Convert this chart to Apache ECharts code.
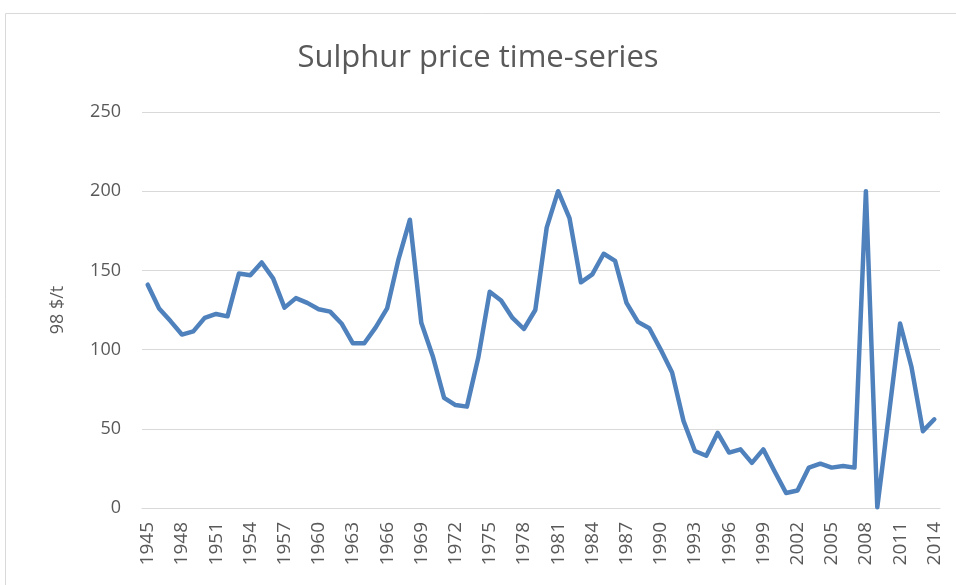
<!DOCTYPE html>
<html>
<head>
<meta charset="utf-8">
<script src="https://cdn.jsdelivr.net/npm/echarts@6/dist/echarts.min.js"></script>
<style>
  html, body { margin: 0; padding: 0; background: #fff; }
  #chart { width: 956px; height: 585px; }
</style>
</head>
<body>
<div id="chart"></div>
<script>
const years = [];
for (let y = 1945; y <= 2014; y++) years.push(String(y));

// 98 $/t
const price = [
  141, 126, 118, 109.5, 111.5, 120, 122.5, 121, 148, 147,
  155, 145, 126.5, 132.5, 129.5, 125.5, 124, 116.5, 104, 104,
  114, 126, 157, 182, 117, 96, 69.5, 65, 64, 95,
  136.5, 131, 120, 113, 125, 177, 200, 183, 142.5, 147.5,
  160.5, 156, 129.5, 117.5, 113.5, 100, 85.5, 55, 36, 33,
  47.5, 35, 37, 28.5, 37, 23, 9.5, 11, 25.5, 28,
  25.5, 26.5, 25.5, 200, 0.5, 58, 116.5, 89, 48.5, 56
];

const yTicks = [0, 50, 100, 150, 200, 250];

const chart = echarts.init(document.getElementById('chart'));

chart.setOption({
  animation: false,
  textStyle: { fontFamily: 'Open Sans', color: '#595959' },
  title: {
    text: 'Sulphur price time-series',
    left: 'center',
    top: 38,
    textStyle: {
      fontFamily: 'Open Sans',
      fontSize: 31,
      fontWeight: 'normal',
      color: '#595959'
    }
  },
  graphic: [{
    type: 'rect',
    shape: { x: 5.5, y: 13.5, width: 1000, height: 1000 },
    style: { fill: 'none', stroke: '#d9d9d9', lineWidth: 1 },
    silent: true
  }],
  grid: { left: 142, right: 16, top: 112, bottom: 77 },
  xAxis: {
    type: 'category',
    data: years,
    boundaryGap: true,
    axisLine: { lineStyle: { color: '#d9d9d9', width: 1 } },
    axisTick: { show: false },
    axisLabel: {
      interval: 2,
      rotate: 90,
      margin: 14,
      fontSize: 19,
      color: '#595959'
    }
  },
  yAxis: {
    type: 'value',
    min: yTicks[0],
    max: yTicks[yTicks.length - 1],
    interval: 50,
    name: '98 $/t',
    nameLocation: 'middle',
    nameGap: 75,
    nameTextStyle: { fontSize: 18, color: '#595959' },
    axisLine: { show: false },
    axisTick: { show: false },
    axisLabel: { fontSize: 18, margin: 21, color: '#595959' },
    splitLine: { lineStyle: { color: '#d9d9d9', width: 1 } }
  },
  series: [{
    type: 'line',
    data: price,
    symbol: 'none',
    lineStyle: { color: '#4f81bd', width: 4.5, join: 'round', cap: 'round' },
    itemStyle: { color: '#4f81bd' }
  }]
});
</script>
</body>
</html>
